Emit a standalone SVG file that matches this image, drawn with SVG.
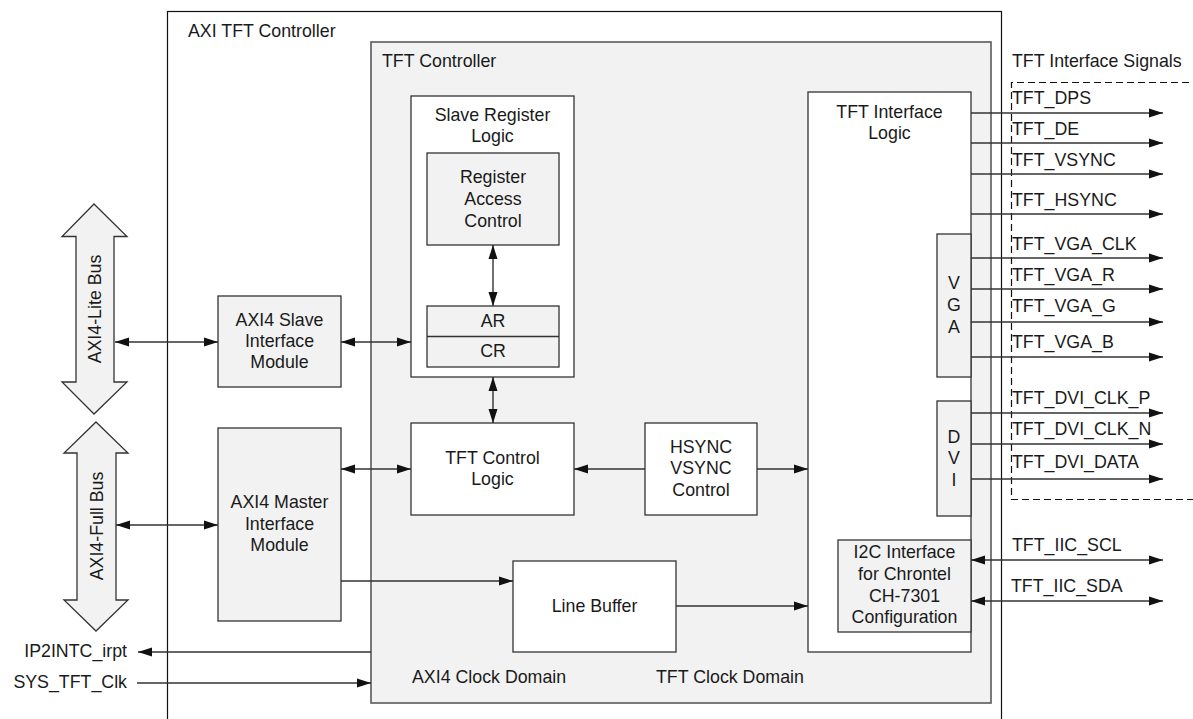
<svg xmlns="http://www.w3.org/2000/svg" width="1193" height="719" viewBox="0 0 1193 719">
  <style>
    text { font-family: "Liberation Sans", Arial, sans-serif; font-size: 17.8px; fill: #1a1a1a; }
    .c { text-anchor: middle; }
    .r { text-anchor: end; }
    .box { fill: #ffffff; stroke: #333333; stroke-width: 1.3; }
    .gbox { fill: #f2f2f2; stroke: #333333; stroke-width: 1.3; }
    .wire { fill: none; stroke: #333333; stroke-width: 1.4; }
    .one { marker-end: url(#arrow); }
    .two { marker-start: url(#arrow); marker-end: url(#arrow); }
  </style>
  <defs>
    <marker id="arrow" markerUnits="userSpaceOnUse" markerWidth="14" markerHeight="10" refX="14" refY="5" orient="auto-start-reverse" viewBox="0 0 14 10">
      <path d="M0,0.5 L14,5 L0,9.5 z" fill="#111111"/>
    </marker>
  </defs>

  <rect width="1193" height="719" fill="#ffffff"/>

  <!-- outer block -->
  <g id="axi-tft-controller">
    <rect x="167.5" y="11.5" width="834" height="730" fill="#ffffff" stroke="#111111" stroke-width="1.2"/>
    <text x="188" y="37">AXI TFT Controller</text>
  </g>

  <!-- core block -->
  <g id="tft-controller">
    <rect x="371" y="42" width="620" height="661" fill="#f2f2f2" stroke="#5a5a5a" stroke-width="1.6"/>
    <text x="382" y="67">TFT Controller</text>
    <text x="412" y="683">AXI4 Clock Domain</text>
    <text x="656" y="683">TFT Clock Domain</text>
  </g>

  <!-- bus arrows -->
  <g id="axi4-lite-bus">
    <path d="M94,204 L127,236.5 L114,236.5 L114,382 L127,382 L94,414 L62,382 L76,382 L76,236.5 L62,236.5 Z" fill="#f2f2f2" stroke="#333333" stroke-width="1.3"/>
    <text class="c" transform="translate(101,309) rotate(-90)">AXI4-Lite Bus</text>
  </g>
  <g id="axi4-full-bus">
    <path d="M96,422 L128,453 L116,453 L116,600 L128,600 L96,631 L64,600 L77,600 L77,453 L64,453 Z" fill="#f2f2f2" stroke="#333333" stroke-width="1.3"/>
    <text class="c" transform="translate(103,526) rotate(-90)">AXI4-Full Bus</text>
  </g>

  <!-- interface modules -->
  <g id="axi4-slave-module">
    <rect class="gbox" x="218" y="296" width="123" height="91"/>
    <text class="c" x="279.5" y="326">AXI4 Slave</text>
    <text class="c" x="279.5" y="347">Interface</text>
    <text class="c" x="279.5" y="368">Module</text>
  </g>
  <g id="axi4-master-module">
    <rect class="gbox" x="218" y="428" width="123" height="193"/>
    <text class="c" x="279.5" y="508">AXI4 Master</text>
    <text class="c" x="279.5" y="530">Interface</text>
    <text class="c" x="279.5" y="551">Module</text>
  </g>

  <!-- register block -->
  <g id="slave-register-logic">
    <rect class="box" x="411" y="96" width="163" height="281"/>
    <text class="c" x="492.5" y="121">Slave Register</text>
    <text class="c" x="492.5" y="142">Logic</text>
  </g>
  <g id="register-access-control">
    <rect class="gbox" x="427" y="153" width="132" height="92"/>
    <text class="c" x="493" y="183">Register</text>
    <text class="c" x="493" y="205">Access</text>
    <text class="c" x="493" y="227">Control</text>
  </g>
  <g id="ar-cr-registers">
    <rect class="gbox" x="427" y="306" width="132" height="61"/>
    <line x1="427" y1="336.5" x2="559" y2="336.5" stroke="#333333" stroke-width="1.3"/>
    <text class="c" x="493" y="327">AR</text>
    <text class="c" x="493" y="357">CR</text>
  </g>

  <g id="tft-control-logic">
    <rect class="box" x="411" y="423" width="163" height="92"/>
    <text class="c" x="492.5" y="464">TFT Control</text>
    <text class="c" x="492.5" y="485">Logic</text>
  </g>
  <g id="hsync-vsync-control">
    <rect class="box" x="645" y="423" width="112" height="92"/>
    <text class="c" x="701" y="453">HSYNC</text>
    <text class="c" x="701" y="474">VSYNC</text>
    <text class="c" x="701" y="496">Control</text>
  </g>
  <g id="line-buffer">
    <rect class="box" x="513" y="561" width="163" height="91"/>
    <text class="c" x="594.5" y="612">Line Buffer</text>
  </g>

  <!-- output side -->
  <g id="tft-interface-logic">
    <rect class="box" x="808" y="92" width="163" height="560"/>
    <text class="c" x="889.5" y="118">TFT Interface</text>
    <text class="c" x="889.5" y="139">Logic</text>
  </g>
  <g id="vga-port">
    <rect class="gbox" x="937" y="234" width="34" height="143"/>
    <text class="c" x="954" y="289">V</text>
    <text class="c" x="954" y="311">G</text>
    <text class="c" x="954" y="333">A</text>
  </g>
  <g id="dvi-port">
    <rect class="gbox" x="937" y="401" width="34" height="115"/>
    <text class="c" x="954" y="443">D</text>
    <text class="c" x="954" y="464">V</text>
    <text class="c" x="954" y="486">I</text>
  </g>
  <g id="i2c-interface">
    <rect class="gbox" x="838" y="540" width="133" height="92"/>
    <text class="c" x="904.5" y="558">I2C Interface</text>
    <text class="c" x="904.5" y="580">for Chrontel</text>
    <text class="c" x="904.5" y="602">CH-7301</text>
    <text class="c" x="904.5" y="623">Configuration</text>
  </g>

  <!-- external signal group -->
  <g id="tft-interface-signals">
    <path d="M1200,82.5 H1011.5 V499.5 H1200" fill="none" stroke="#111111" stroke-width="1.2" stroke-dasharray="7 4"/>
    <text x="1012" y="67">TFT Interface Signals</text>
    <text x="1012" y="104">TFT_DPS</text>
    <text x="1012" y="135">TFT_DE</text>
    <text x="1012" y="166">TFT_VSYNC</text>
    <text x="1012" y="206">TFT_HSYNC</text>
    <text x="1012" y="250">TFT_VGA_CLK</text>
    <text x="1012" y="281">TFT_VGA_R</text>
    <text x="1012" y="312">TFT_VGA_G</text>
    <text x="1012" y="348">TFT_VGA_B</text>
    <text x="1012" y="404">TFT_DVI_CLK_P</text>
    <text x="1012" y="435">TFT_DVI_CLK_N</text>
    <text x="1012" y="468">TFT_DVI_DATA</text>
    <text x="1012" y="551">TFT_IIC_SCL</text>
    <text x="1011" y="592">TFT_IIC_SDA</text>
  </g>

  <!-- system signals -->
  <g id="system-signals">
    <text class="r" x="127" y="657">IP2INTC_irpt</text>
    <text class="r" x="127" y="688">SYS_TFT_Clk</text>
  </g>

  <!-- connectors -->
  <g id="connectors">
    <line class="wire two" x1="115" y1="342" x2="218" y2="342"/>
    <line class="wire two" x1="341" y1="342" x2="411" y2="342"/>
    <line class="wire two" x1="116" y1="525" x2="218" y2="525"/>
    <line class="wire two" x1="341" y1="469" x2="411" y2="469"/>
    <line class="wire two" x1="493" y1="245" x2="493" y2="306"/>
    <line class="wire two" x1="493" y1="377" x2="493" y2="423"/>
    <line class="wire one" x1="645" y1="469" x2="574" y2="469"/>
    <line class="wire one" x1="757" y1="469" x2="808" y2="469"/>
    <line class="wire one" x1="341" y1="581" x2="513" y2="581"/>
    <line class="wire one" x1="676" y1="606" x2="808" y2="606"/>
    <line class="wire one" x1="371" y1="652" x2="138" y2="652"/>
    <line class="wire one" x1="137" y1="683" x2="371" y2="683"/>

    <line class="wire one" x1="971" y1="113" x2="1163" y2="113"/>
    <line class="wire one" x1="971" y1="143" x2="1163" y2="143"/>
    <line class="wire one" x1="971" y1="174" x2="1163" y2="174"/>
    <line class="wire one" x1="971" y1="214" x2="1163" y2="214"/>
    <line class="wire one" x1="971" y1="258" x2="1163" y2="258"/>
    <line class="wire one" x1="971" y1="289" x2="1163" y2="289"/>
    <line class="wire one" x1="971" y1="322" x2="1163" y2="322"/>
    <line class="wire one" x1="971" y1="357" x2="1163" y2="357"/>
    <line class="wire one" x1="971" y1="413" x2="1163" y2="413"/>
    <line class="wire one" x1="971" y1="444" x2="1163" y2="444"/>
    <line class="wire one" x1="971" y1="479" x2="1163" y2="479"/>
    <line class="wire two" x1="971" y1="560" x2="1163" y2="560"/>
    <line class="wire two" x1="971" y1="601" x2="1163" y2="601"/>
  </g>
</svg>
